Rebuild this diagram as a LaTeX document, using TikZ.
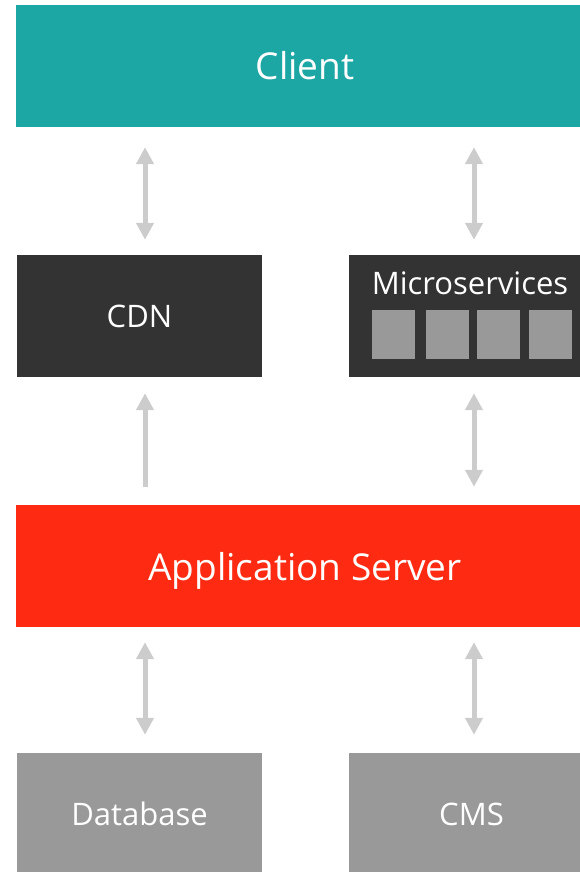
\documentclass[tikz,border=0pt]{standalone}
\usepackage{fontspec}
\setmainfont{Open Sans}
\usetikzlibrary{arrows.meta}
\definecolor{teal1}{HTML}{1CA6A4}
\definecolor{dark1}{HTML}{333333}
\definecolor{red1}{HTML}{FF2A12}
\definecolor{gray1}{HTML}{999999}
\definecolor{arrgray}{HTML}{CCCCCC}
\tikzset{
  box/.style={rectangle, inner sep=0pt, text=white, minimum height=122pt},
  wide/.style={box, minimum width=578pt, font=\fontsize{37}{44}\selectfont},
  half/.style={box, minimum width=245pt, font=\fontsize{31}{37}\selectfont},
  svc/.style={rectangle, inner sep=0pt, fill=gray1, minimum width=43pt, minimum height=49pt},
  arr/.style={draw=arrgray, line width=5pt, shorten <=16pt, shorten >=17pt},
  dbl/.style={arr, {Triangle[width=17pt,length=17pt]}-{Triangle[width=17pt,length=17pt]}},
  sgl/.style={arr, -{Triangle[width=17pt,length=17pt]}}
}
\begin{document}
\begin{tikzpicture}[x=1pt,y=-1pt]
\useasboundingbox (0,0) rectangle (580,872);
\node[wide, fill=teal1] (client) at (305,66) {Client};
\node[half, fill=dark1] (cdn) at (139.5,316) {CDN};
\node[half, fill=dark1] (micro) at (471.5,316) {};
\node[font=\fontsize{31}{37}\selectfont, text=white, inner sep=0pt] (microlabel) at (470,283) {Microservices};
\node[svc] (s1) at (393.5,334.5) {};
\node[svc] (s2) at (447,334.5) {};
\node[svc] (s3) at (498,334.5) {};
\node[svc] (s4) at (550,334.5) {};
\node[wide, fill=red1, text depth=0pt] (app) at (305,566) {Application Server};
\node[half, fill=gray1] (db) at (139.5,814) {Database};
\node[half, fill=gray1] (cms) at (471.5,814) {CMS};
\coordinate (xl) at (145,0);
\coordinate (xr) at (474,0);
% client <-> cdn / micro
\draw[dbl, shorten <=20pt, shorten >=15pt] (client.south -| xl) -- (cdn.north -| xl);
\draw[dbl, shorten <=20pt, shorten >=15pt] (client.south -| xr) -- (micro.north -| xr);
% app -> cdn, app <-> micro
\draw[sgl, shorten <=18pt, shorten >=16pt] (app.north -| xl) -- (cdn.south -| xl);
\draw[dbl, shorten <=18pt, shorten >=16pt] (app.north -| xr) -- (micro.south -| xr);
% app <-> db / cms
\draw[dbl, shorten <=15pt, shorten >=18pt] (app.south -| xl) -- (db.north -| xl);
\draw[dbl, shorten <=15pt, shorten >=18pt] (app.south -| xr) -- (cms.north -| xr);
\end{tikzpicture}
\end{document}
